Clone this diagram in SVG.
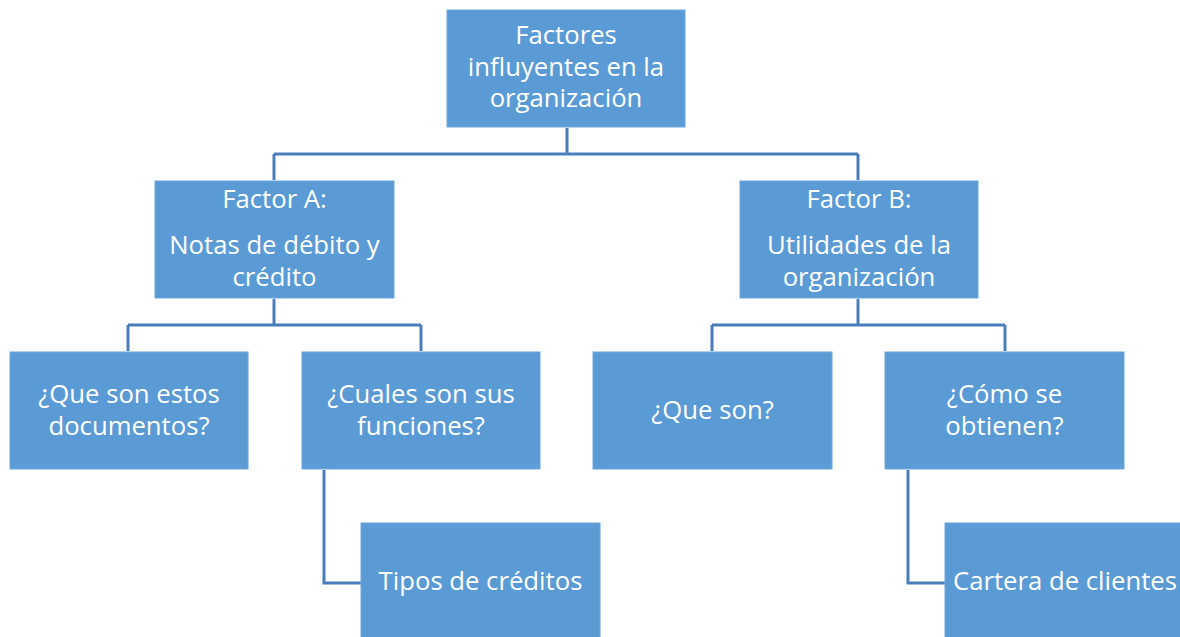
<svg xmlns="http://www.w3.org/2000/svg" width="1180" height="637" viewBox="0 0 1180 637">
<style>
.box{fill:#5B9BD5;stroke:#6FA8DC;stroke-width:1}
.t{font-family:"Open Sans","Liberation Sans",sans-serif;font-size:25.7px;fill:#FFFFFF;text-anchor:middle}
.c{fill:none;stroke:#4A7EBB;stroke-width:3}
</style>
<rect width="1180" height="637" fill="#FFFFFF"/>
<g id="connectors">
<path class="c" d="M567 128 V154 M274 154 H858 M274 154 V180 M858 154 V180"/>
<path class="c" d="M274 299 V325 M128 325 H421 M128 325 V351 M421 325 V351"/>
<path class="c" d="M858 299 V325 M712 325 H1005 M712 325 V351 M1005 325 V351"/>
<path class="c" d="M324 470 V583 H361"/>
<path class="c" d="M908 470 V583 H945"/>
</g>
<g id="root"><rect class="box" x="447" y="10" width="238" height="117"/>
<text class="t" x="566" y="44">Factores</text><text class="t" x="566" y="76">influyentes en la</text><text class="t" x="566" y="107">organización</text></g>
<g id="factorA"><rect class="box" x="155" y="181" width="239" height="117"/>
<text class="t" x="274.5" y="208">Factor A:</text><text class="t" x="274.5" y="254">Notas de débito y</text><text class="t" x="274.5" y="286">crédito</text></g>
<g id="factorB"><rect class="box" x="740" y="181" width="238" height="117"/>
<text class="t" x="859" y="208">Factor B:</text><text class="t" x="859" y="254">Utilidades de la</text><text class="t" x="859" y="286">organización</text></g>
<g id="a1"><rect class="box" x="10" y="352" width="238" height="117"/>
<text class="t" x="129" y="403">¿Que son estos</text><text class="t" x="129" y="435">documentos?</text></g>
<g id="a2"><rect class="box" x="302" y="352" width="238" height="117"/>
<text class="t" x="421" y="403">¿Cuales son sus</text><text class="t" x="421" y="435">funciones?</text></g>
<g id="b1"><rect class="box" x="593" y="352" width="239" height="117"/>
<text class="t" x="712.5" y="419">¿Que son?</text></g>
<g id="b2"><rect class="box" x="885" y="352" width="239" height="117"/>
<text class="t" x="1004.5" y="403">¿Cómo se</text><text class="t" x="1004.5" y="435">obtienen?</text></g>
<g id="a21"><rect class="box" x="361" y="523" width="239" height="117"/>
<text class="t" x="480.5" y="590">Tipos de créditos</text></g>
<g id="b21"><rect class="box" x="945" y="523" width="239" height="117"/>
<text class="t" x="1065" y="590">Cartera de clientes</text></g>
</svg>
